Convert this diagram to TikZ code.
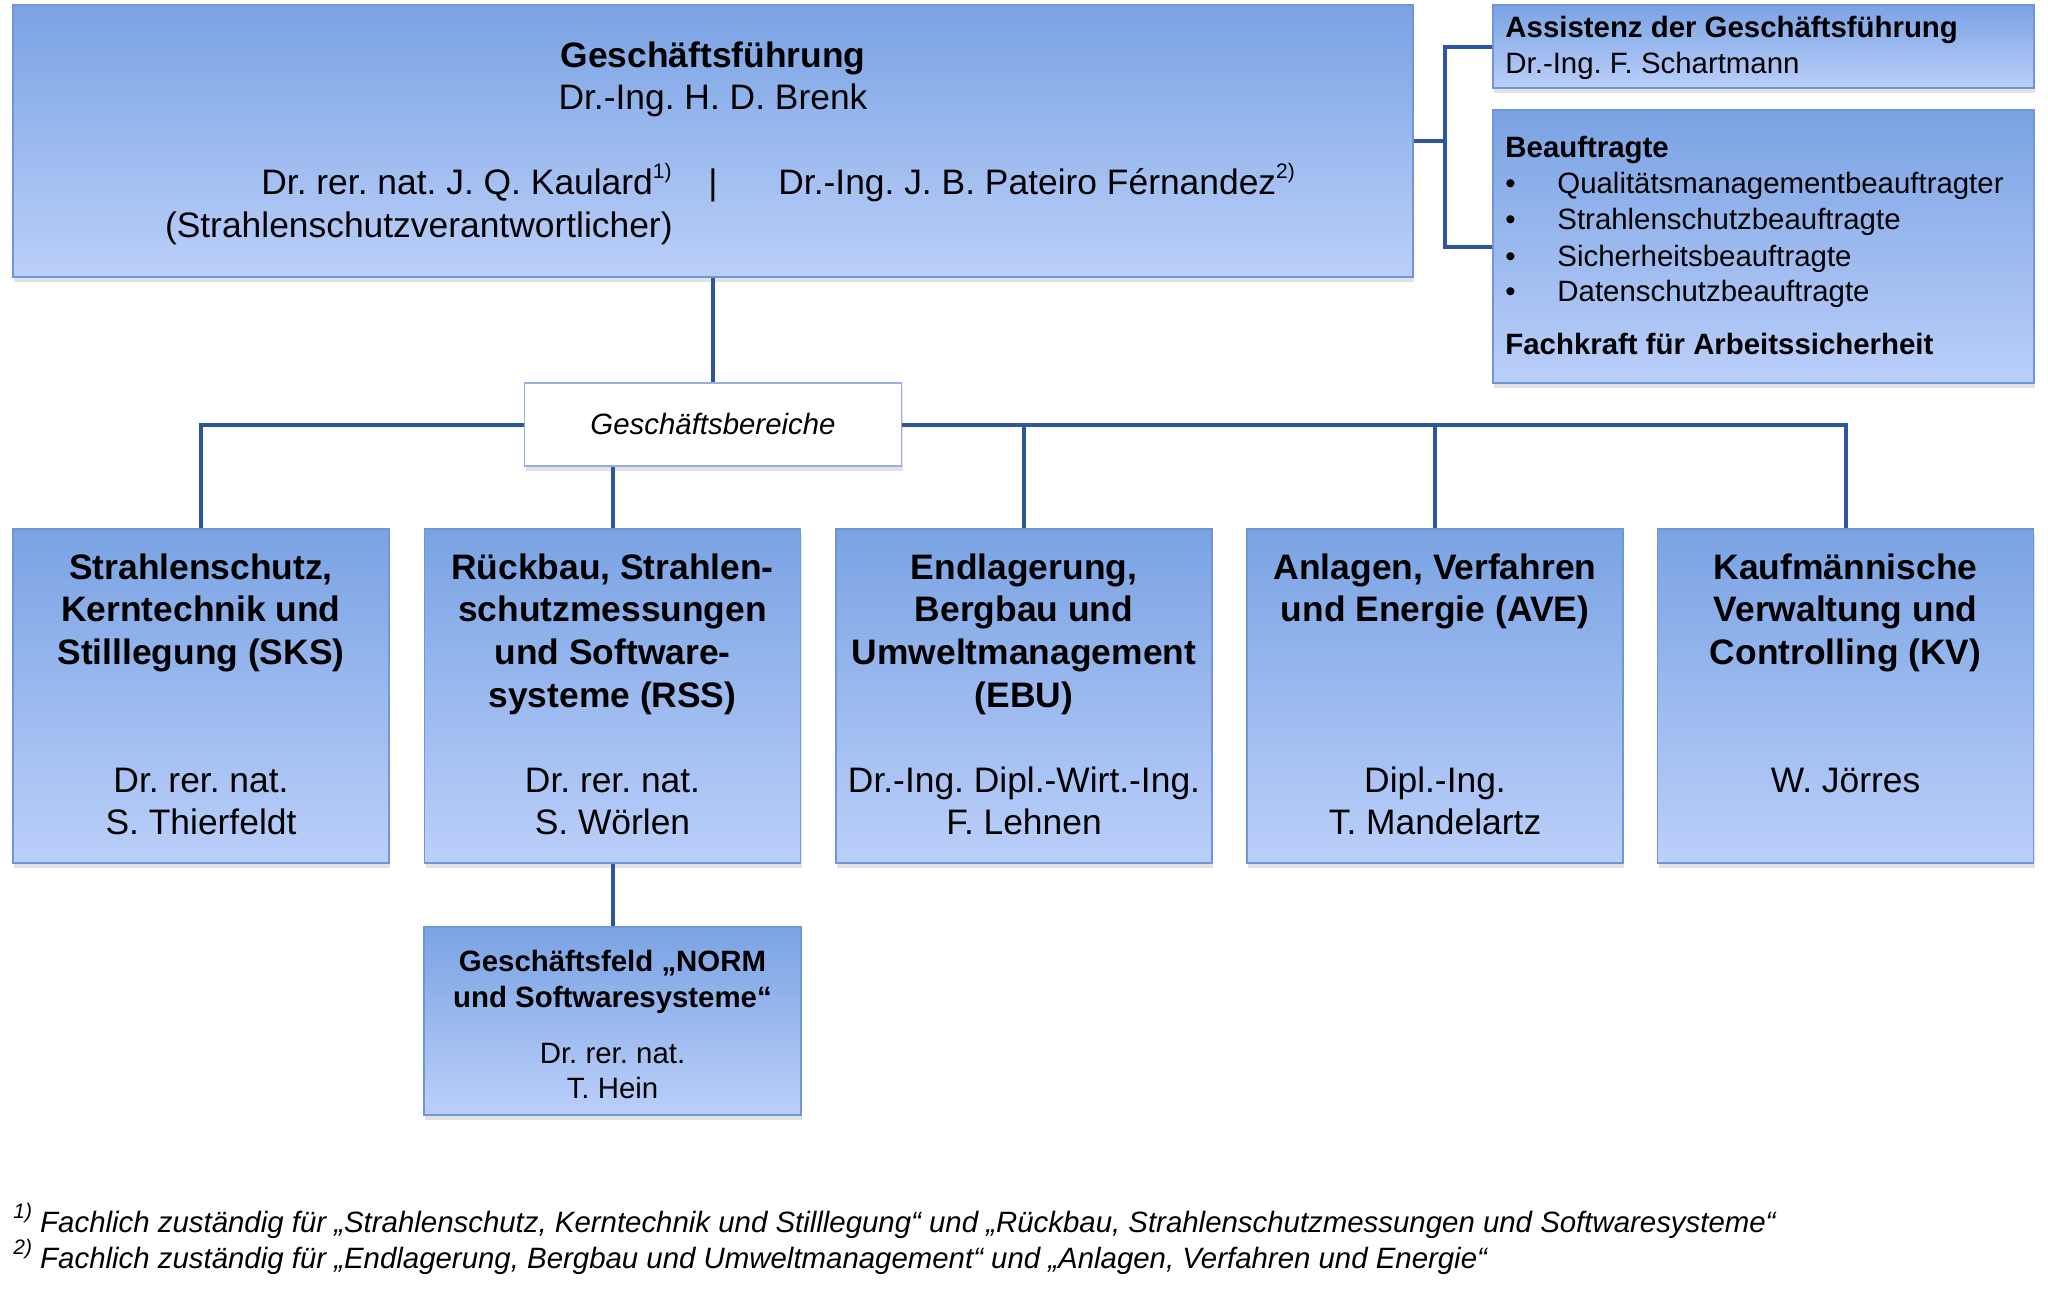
\documentclass[tikz,border=0pt]{standalone}
\usepackage{fontspec}
\setmainfont{Liberation Sans}
\usetikzlibrary{shadows,backgrounds}
\definecolor{boxtop}{RGB}{122,163,227}
\definecolor{boxbot}{RGB}{187,207,250}
\definecolor{boxline}{RGB}{112,150,214}
\definecolor{gbline}{RGB}{150,175,220}
\definecolor{connc}{RGB}{46,86,160}
\newcommand\fnsup[1]{\raisebox{0.45em}{\fontsize{10.5}{12}\selectfont #1}}
\frenchspacing
\begin{document}
\begin{tikzpicture}[x=0.5pt,y=-0.5pt,
  shad/.style={drop shadow={shadow xshift=0.6pt, shadow yshift=-2.5pt, opacity=0.16, fill=black!70}},
  box/.style={draw=boxline, line width=0.6pt, top color=boxtop, bottom color=boxbot, inner sep=0pt, shad},
  gbbox/.style={draw=gbline, line width=0.6pt, fill=white, inner sep=0pt, shad},
  big/.style={font=\fontsize{17.7}{21.3}\selectfont, inner sep=0pt, anchor=base},
  bigb/.style={big, font=\fontsize{17.7}{21.3}\selectfont\bfseries},
  small/.style={font=\fontsize{14.7}{17.6}\selectfont, inner sep=0pt, anchor=base},
  smallb/.style={small, font=\fontsize{14.7}{17.6}\selectfont\bfseries},
  smalli/.style={small, font=\fontsize{14.7}{17.6}\selectfont\itshape},
  conn/.style={draw=connc, line width=2pt}]
\useasboundingbox (0,0) rectangle (2048,1291);

% ---- boxes ----
\node[box, minimum width=700pt, minimum height=136pt] (gf) at (713,141) {};
\node[box, minimum width=270.5pt, minimum height=41.5pt] (asst) at (1763.5,46.5) {};
\node[box, minimum width=270.5pt, minimum height=136.5pt] (beau) at (1763.5,246.5) {};
\node[gbbox, minimum width=188.5pt, minimum height=41.5pt] (gb) at (713,424.5) {};
\node[box, minimum width=188pt, minimum height=167pt] (b1) at (201,696) {};
\node[box, minimum width=188pt, minimum height=167pt] (b2) at (612.5,696) {};
\node[box, minimum width=188pt, minimum height=167pt] (b3) at (1024,696) {};
\node[box, minimum width=188pt, minimum height=167pt] (b4) at (1435,696) {};
\node[box, minimum width=188pt, minimum height=167pt] (b5) at (1845.5,696) {};
\node[box, minimum width=188.5pt, minimum height=94pt] (norm) at (612.5,1021) {};

% ---- connectors ----
\coordinate (brk) at (1445,141);
\begin{scope}[on background layer]
\fill[white] (0,0) rectangle (2048,1291);
\draw[conn] (gf.south) -- (gb.north);
\draw[conn] (gb.west) -| (b1.north);
\draw[conn] (gb.east) -| (b5.north);
\draw[conn] (b3.north) -- (b3.north |- gb.east);
\draw[conn] (b4.north) -- (b4.north |- gb.east);
\draw[conn] (b2.north) -- (b2.north |- gb.south);
\draw[conn] (b2.south) -- (norm.north);
\draw[conn] (gf.east) -- (brk);
\draw[conn] (asst.west) -| (brk) |- (beau.west);
\end{scope}

% ---- Geschaeftsfuehrung ----
\node[bigb] (gft) at (713,67) {Geschäftsführung};
\node[big] (gfn) at (713,109) {Dr.-Ing. H. D. Brenk};
\node[big, anchor=base east] (gfk) at (672,194) {Dr. rer. nat. J. Q. Kaulard\fnsup{1)}};
\node[big, anchor=base east] (gfs) at (673,237) {(Strahlenschutzverantwortlicher)};
\node[big] (gfbar) at (713,194) {|};
\node[big, anchor=base west] (gfp) at (778,194) {Dr.-Ing. J. B. Pateiro Férnandez\fnsup{2)}};

% ---- Assistenz ----
\node[smallb, anchor=base west] (asst1) at (1505,37) {Assistenz der Geschäftsführung};
\node[small, anchor=base west] (asst2) at (1505,73) {Dr.-Ing. F. Schartmann};

% ---- Beauftragte ----
\node[smallb, anchor=base west] (beau0) at (1505,157) {Beauftragte};
\node[small, anchor=base west] (bul1) at (1505,193) {•};
\node[small, anchor=base west] (beau1) at (1557,193) {Qualitätsmanagementbeauftragter};
\node[small, anchor=base west] (bul2) at (1505,229) {•};
\node[small, anchor=base west] (beau2) at (1557,229) {Strahlenschutzbeauftragte};
\node[small, anchor=base west] (bul3) at (1505,266) {•};
\node[small, anchor=base west] (beau3) at (1557,266) {Sicherheitsbeauftragte};
\node[small, anchor=base west] (bul4) at (1505,301) {•};
\node[small, anchor=base west] (beau4) at (1557,301) {Datenschutzbeauftragte};
\node[smallb, anchor=base west] (beau5) at (1505,354) {Fachkraft für Arbeitssicherheit};

% ---- Geschaeftsbereiche ----
\node[smalli] (gbt) at (713,434) {Geschäftsbereiche};

% ---- SKS ----
\node[bigb] (b1t1) at (201,579) {Strahlenschutz,};
\node[bigb] (b1t2) at (201,621) {Kerntechnik und};
\node[bigb] (b1t3) at (201,664) {Stilllegung (SKS)};
\node[big] (b1n1) at (201,792) {Dr. rer. nat.};
\node[big] (b1n2) at (201,834) {S. Thierfeldt};

% ---- RSS ----
\node[bigb] (b2t1) at (612.5,579) {Rückbau, Strahlen-};
\node[bigb] (b2t2) at (612.5,621) {schutzmessungen};
\node[bigb] (b2t3) at (612.5,664) {und Software-};
\node[bigb] (b2t4) at (612.5,707) {systeme (RSS)};
\node[big] (b2n1) at (612.5,792) {Dr. rer. nat.};
\node[big] (b2n2) at (612.5,834) {S. Wörlen};

% ---- EBU ----
\node[bigb] (b3t1) at (1024,579) {Endlagerung,};
\node[bigb] (b3t2) at (1024,621) {Bergbau und};
\node[bigb] (b3t3) at (1024,664) {Umweltmanagement};
\node[bigb] (b3t4) at (1024,707) {(EBU)};
\node[big] (b3n1) at (1024,792) {Dr.-Ing. Dipl.-Wirt.-Ing.};
\node[big] (b3n2) at (1024,834) {F. Lehnen};

% ---- AVE ----
\node[bigb] (b4t1) at (1435,579) {Anlagen, Verfahren};
\node[bigb] (b4t2) at (1435,621) {und Energie (AVE)};
\node[big] (b4n1) at (1435,792) {Dipl.-Ing.};
\node[big] (b4n2) at (1435,834) {T. Mandelartz};

% ---- KV ----
\node[bigb] (b5t1) at (1845.5,579) {Kaufmännische};
\node[bigb] (b5t2) at (1845.5,621) {Verwaltung und};
\node[bigb] (b5t3) at (1845.5,664) {Controlling (KV)};
\node[big] (b5n1) at (1845.5,792) {W. Jörres};

% ---- NORM ----
\node[smallb] (nt1) at (612.5,971) {Geschäftsfeld „NORM};
\node[smallb] (nt2) at (612.5,1007) {und Softwaresysteme“};
\node[small] (nn1) at (612.5,1063) {Dr. rer. nat.};
\node[small] (nn2) at (612.5,1098) {T. Hein};

% ---- footnotes ----
\node[smalli, anchor=base west] (fn1) at (13,1232) {\fnsup{1)} Fachlich zuständig für „Strahlenschutz, Kerntechnik und Stilllegung“ und „Rückbau, Strahlenschutzmessungen und Softwaresysteme“};
\node[smalli, anchor=base west] (fn2) at (13,1268) {\fnsup{2)} Fachlich zuständig für „Endlagerung, Bergbau und Umweltmanagement“ und „Anlagen, Verfahren und Energie“};
\end{tikzpicture}
\end{document}
